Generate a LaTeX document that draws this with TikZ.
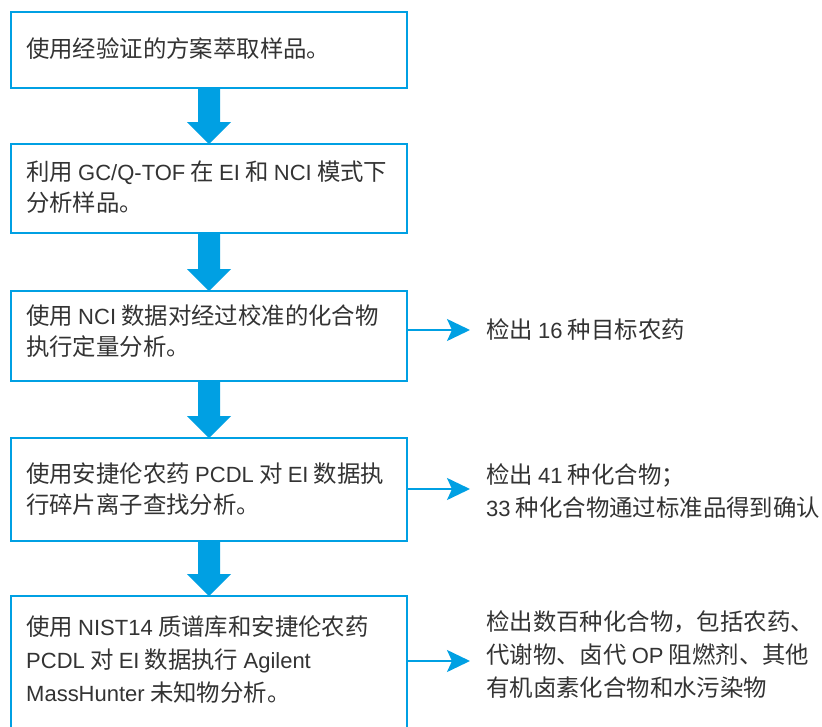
\documentclass[tikz,border=0pt]{standalone}
\usepackage{fontspec}
\setmainfont{Noto Sans CJK SC}
\newfontfamily\latnfont[Scale=0.94]{Liberation Sans}
\newcommand{\enw}[1]{{\latnfont #1}}
\usetikzlibrary{arrows.meta,calc}
\definecolor{bl}{RGB}{0,160,227}
\definecolor{tx}{RGB}{51,51,51}
\begin{document}
\begin{tikzpicture}[x=1pt,y=-1pt,
 box/.style={draw=bl, line width=2pt, minimum width=396pt, inner sep=0pt, outer sep=0pt},
 txt/.style={anchor=west, inner sep=0pt, text=tx, align=left, font=\fontsize{23.4}{31}\selectfont},
 rtxt/.style={txt, font=\fontsize{23.4}{33}\selectfont},
 side/.style={draw=bl, line width=2pt, -{Stealth[length=23pt, width=22pt, inset=5pt]}},
]
\useasboundingbox (0,0) rectangle (822,726);
\clip (0,0) rectangle (822,726);
\fill[white] (0,0) rectangle (822,726);
\node[box, minimum height=76pt] (b1) at (209,50) {};
\node[box, minimum height=89pt] (b2) at (209,188.5) {};
\node[box, minimum height=90pt] (b3) at (209,336) {};
\node[box, minimum height=103pt] (b4) at (209,489.5) {};
\node[box, minimum height=164pt] (b5) at (209,678) {};
\node[txt] (t1) at (26,48.5) {使用经验证的方案萃取样品。};
\node[txt] (t2) at (26,187) {利用 \enw{GC/Q-TOF} 在 \enw{EI} 和 \enw{NCI} 模式下\\分析样品。};
\node[txt] (t3) at (26,331.5) {使用 \enw{NCI} 数据对经过校准的化合物\\执行定量分析。};
\node[txt] (t4) at (26,489) {使用安捷伦农药 \enw{PCDL} 对 \enw{EI} 数据执\\行碎片离子查找分析。};
\node[rtxt] (t5) at (26,660) {使用 \enw{NIST14} 质谱库和安捷伦农药\\\enw{PCDL} 对 \enw{EI} 数据执行 \enw{Agilent}\\\enw{MassHunter} 未知物分析。};
\node[rtxt] (r1) at (486,330) {检出 \enw{16} 种目标农药};
\node[rtxt] (r2) at (486,491.5) {检出 \enw{41} 种化合物；\\\enw{33} 种化合物通过标准品得到确认};
\node[rtxt] (r3) at (486,654.5) {检出数百种化合物，包括农药、\\代谢物、卤代 \enw{OP} 阻燃剂、其他\\有机卤素化合物和水污染物};
\foreach \a/\b in {b1/b2,b2/b3,b3/b4,b4/b5}{
  \fill[bl] ($(\a.south)+(-11,0)$) -- ($(\b.north)+(-11,-22)$) -- ($(\b.north)+(-22,-22)$) -- (\b.north)
    -- ($(\b.north)+(22,-22)$) -- ($(\b.north)+(11,-22)$) -- ($(\a.south)+(11,0)$) -- cycle;
}
\coordinate (e1) at (470,330);
\coordinate (e2) at (470,489);
\coordinate (e3) at (470,661);
\draw[side] (b3.east |- e1) -- (e1);
\draw[side] (b4.east |- e2) -- (e2);
\draw[side] (b5.east |- e3) -- (e3);
\end{tikzpicture}
\end{document}
